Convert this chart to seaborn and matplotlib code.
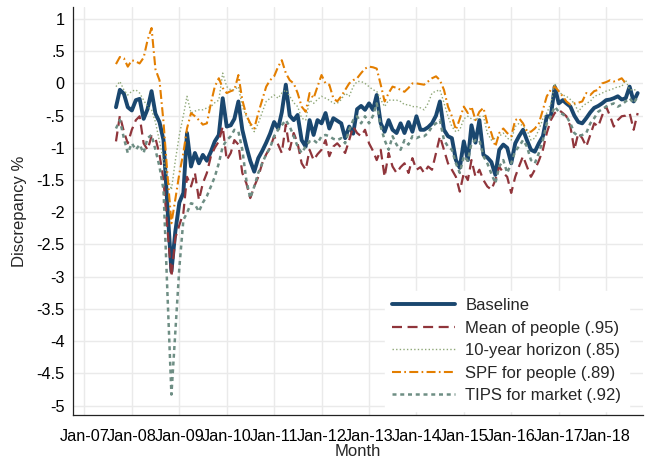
import numpy as np
import pandas as pd
import matplotlib
matplotlib.use("Agg")
import matplotlib.pyplot as plt
import matplotlib.dates as mdates
import seaborn as sns

# monthly observations, Sep 2007 - Sep 2018
months = pd.date_range("2007-09-01", periods=133, freq="MS")

baseline = [
    -0.37, -0.10, -0.16, -0.37,
    -0.42, -0.26, -0.24, -0.55, -0.40, -0.12, -0.47, -0.60, -0.88, -1.90, -2.92, -2.30,
    -1.85, -1.70, -0.77, -1.29, -1.08, -1.24, -1.11, -1.20, -1.06, -0.90, -0.80, -0.23,
    -0.67, -0.65, -0.55, -0.28, -0.72, -0.98, -1.20, -1.37, -1.16, -1.05, -0.92, -0.78,
    -0.60, -0.70, -0.45, -0.02, -0.50, -0.57, -0.49, -0.88, -0.98, -0.57, -0.80, -0.57,
    -0.62, -0.46, -0.70, -0.54, -0.58, -0.62, -0.85, -0.67, -0.78, -0.40, -0.35, -0.41,
    -0.31, -0.41, -0.18, -0.62, -0.75, -0.57, -0.72, -0.77, -0.62, -0.77, -0.60, -0.75,
    -0.51, -0.72, -0.72, -0.68, -0.62, -0.50, -0.28, -0.72, -0.82, -0.85, -1.19, -1.31,
    -0.90, -1.19, -0.65, -0.92, -0.57, -1.11, -1.15, -1.22, -1.42, -1.03, -0.95, -1.00,
    -1.24, -0.93, -0.82, -0.72, -0.88, -1.03, -1.06, -0.93, -0.82, -0.51, -0.51, -0.05,
    -0.31, -0.26, -0.31, -0.36, -0.50, -0.60, -0.62, -0.54, -0.45, -0.38, -0.35, -0.31,
    -0.26, -0.25, -0.23, -0.20, -0.25, -0.23, -0.05, -0.28, -0.15,
]

mean_people = [
    -0.90, -0.50, -0.75, -0.93,
    -0.72, -0.57, -0.51, -0.93, -1.03, -0.82, -0.85, -1.10, -1.50, -2.25, -3.00, -2.40,
    -2.20, -2.01, -1.45, -1.60, -1.39, -1.81, -1.55, -1.39, -1.13, -1.00, -0.90, -0.67,
    -1.19, -1.08, -0.88, -0.95, -1.39, -1.55, -1.78, -1.60, -1.45, -1.24, -1.10, -1.00,
    -0.82, -0.95, -1.08, -0.64, -1.03, -0.77, -0.93, -1.24, -1.34, -1.03, -1.19, -1.10,
    -1.03, -0.88, -1.13, -0.98, -0.93, -1.00, -1.08, -0.88, -0.67, -0.77, -0.82, -0.72,
    -0.93, -1.05, -1.19, -1.03, -1.45, -1.08, -1.29, -1.39, -1.30, -1.24, -1.39, -1.16,
    -1.34, -1.30, -1.39, -1.29, -1.34, -1.08, -0.82, -1.03, -1.24, -1.34, -1.45, -1.68,
    -1.39, -1.50, -1.19, -1.45, -1.34, -1.50, -1.60, -1.65, -1.50, -1.29, -1.39, -1.45,
    -1.70, -1.45, -1.29, -1.13, -1.29, -1.45, -1.34, -1.20, -1.03, -0.77, -0.57, -0.46,
    -0.41, -0.46, -0.51, -0.67, -1.03, -0.77, -0.85, -0.98, -0.80, -0.62, -0.67, -0.50,
    -0.36, -0.51, -0.67, -0.57, -0.51, -0.50, -0.46, -0.72, -0.46,
]

ten_year = [
    -0.05, 0.03, -0.10, -0.18,
    -0.12, -0.10, -0.15, -0.26, -0.36, -0.41, -0.60, -0.90, -1.20, -1.45, -1.65, -1.20,
    -0.80, -0.50, -0.20, -0.46, -0.43, -0.41, -0.41, -0.38, -0.36, -0.30, -0.26, 0.16,
    -0.05, -0.10, -0.10, -0.05, -0.36, -0.51, -0.65, -0.75, -0.62, -0.45, -0.28, -0.23,
    -0.18, -0.23, -0.15, -0.10, -0.20, -0.30, -0.36, -0.54, -0.57, -0.26, -0.31, -0.25,
    -0.20, -0.23, -0.26, -0.31, -0.31, -0.25, -0.15, -0.20, -0.05, 0.03, 0.03, 0.00,
    -0.05, -0.10, -0.12, -0.25, -0.36, -0.26, -0.26, -0.26, -0.28, -0.33, -0.33, -0.36,
    -0.36, -0.38, -0.41, -0.31, -0.15, -0.12, -0.10, -0.30, -0.51, -0.67, -0.75, -0.72,
    -0.55, -0.51, -0.55, -0.57, -0.51, -0.51, -0.77, -0.88, -0.85, -0.82, -0.77, -0.85,
    -0.88, -0.67, -0.62, -0.66, -0.72, -0.88, -0.85, -0.72, -0.55, -0.46, -0.31, 0.00,
    -0.13, -0.18, -0.20, -0.25, -0.31, -0.44, -0.36, -0.31, -0.28, -0.20, -0.18, -0.15,
    -0.12, -0.10, -0.08, -0.05, -0.05, 0.05, -0.10, -0.10, -0.10,
]

spf_people = [
    0.30, 0.41, 0.39, 0.26,
    0.36, 0.34, 0.31, 0.40, 0.67, 0.86, 0.22, 0.05, -0.60, -1.40, -2.17, -1.80,
    -1.40, -1.08, -0.70, -0.46, -0.51, -0.57, -0.64, -0.62, -0.31, -0.05, 0.08, -0.07,
    -0.15, -0.12, -0.10, 0.13, -0.26, -0.49, -0.62, -0.70, -0.46, -0.26, -0.05, 0.05,
    0.11, 0.26, 0.36, 0.16, 0.05, 0.00, -0.15, -0.36, -0.44, -0.15, -0.23, -0.05,
    0.13, 0.00, -0.02, -0.23, -0.28, -0.20, -0.10, 0.00, 0.05, 0.08, 0.16, 0.23,
    0.26, 0.25, 0.23, -0.02, -0.28, -0.15, -0.05, -0.07, -0.10, -0.13, -0.07, 0.00,
    0.00, -0.01, -0.02, 0.03, 0.08, 0.11, 0.05, -0.10, -0.36, -0.51, -0.72, -0.55,
    -0.36, -0.46, -0.36, -0.57, -0.44, -0.38, -0.62, -0.77, -0.98, -0.77, -0.70, -0.77,
    -0.82, -0.57, -0.54, -0.62, -0.75, -0.75, -0.70, -0.62, -0.41, -0.20, -0.10, -0.05,
    -0.12, -0.20, -0.28, -0.33, -0.31, -0.30, -0.28, -0.15, -0.18, -0.12, -0.10, 0.00,
    0.02, 0.05, 0.03, 0.05, 0.08, 0.00, np.nan, np.nan, np.nan,
]

tips_market = [
    -0.70, -0.57, -0.85, -1.08,
    -0.93, -1.03, -0.95, -1.08, -0.85, -0.80, -1.03, -1.29, -1.65, -3.24, -4.83, -3.85,
    -2.86, -2.12, -2.01, -1.86, -1.88, -1.99, -1.85, -1.75, -1.60, -1.45, -1.24, -0.98,
    -0.88, -0.82, -0.72, -0.75, -1.03, -1.50, -1.78, -1.60, -1.39, -1.24, -1.10, -1.00,
    -0.82, -0.72, -0.65, -0.57, -0.67, -0.82, -0.98, -1.08, -0.98, -0.90, -0.88, -0.93,
    -0.82, -0.80, -0.82, -0.86, -0.88, -0.85, -0.93, -0.72, -0.57, -0.51, -0.62, -0.51,
    -0.62, -0.50, -0.31, -0.67, -0.88, -1.03, -0.82, -0.95, -1.03, -0.88, -0.95, -0.82,
    -0.85, -0.82, -0.82, -0.77, -0.67, -0.62, -0.57, -0.88, -0.98, -1.03, -1.24, -1.39,
    -1.13, -1.20, -0.93, -0.88, -0.88, -1.13, -1.24, -1.40, -1.55, -1.29, -1.19, -1.39,
    -1.24, -1.05, -0.98, -0.88, -0.98, -1.19, -1.24, -1.08, -0.88, -0.62, -0.51, -0.36,
    -0.44, -0.48, -0.51, -0.62, -0.77, -0.82, -0.80, -0.77, -0.62, -0.54, -0.44, -0.40,
    -0.36, -0.33, -0.31, -0.36, -0.33, -0.28, -0.23, -0.31, -0.20,
]

labels = ["Baseline", "Mean of people (.95)", "10-year horizon (.85)",
          "SPF for people (.89)", "TIPS for market (.92)"]
series = [baseline, mean_people, ten_year, spf_people, tips_market]
colors = ["#1a476f", "#90353b", "#8fa878", "#e37e00", "#6e8e84"]
widths = [2.8, 1.6, 1.0, 1.5, 1.8]
styles = ["-", (0, (4.5, 2.5)), (0, (1, 1.6)), (0, (4.3, 1.6, 0.8, 1.6)), (0, (1.6, 1.5))]

yticks = [1, 0.5, 0, -0.5, -1, -1.5, -2, -2.5, -3, -3.5, -4, -4.5, -5]
ytick_labels = ["1", ".5", "0", "-.5", "-1", "-1.5", "-2", "-2.5", "-3", "-3.5", "-4", "-4.5", "-5"]
xticks = pd.date_range("2007-01-01", "2018-01-01", freq="YS")

sns.set_style("white")
plt.rcParams["font.family"] = ["Liberation Sans", "DejaVu Sans"]

fig = plt.figure(figsize=(6.45, 4.59), dpi=100)
ax = fig.add_axes([73 / 645, 44 / 459, 570 / 645, 408 / 459])

for vals, lab, c, w, ls in zip(series, labels, colors, widths, styles):
    sns.lineplot(x=months, y=vals, ax=ax, color=c, linewidth=w,
                 linestyle=ls, label=lab)

ax.set_xlim(pd.Timestamp("2006-10-05"), pd.Timestamp("2018-10-12"))
ax.set_ylim(-5.147, 1.186)
ax.set_yticks(yticks)
ax.set_yticklabels(ytick_labels)
ax.set_xticks(xticks)
ax.xaxis.set_major_formatter(mdates.DateFormatter("%b-%y"))

ax.grid(True, color="#eaeaea", linewidth=1.0)
ax.set_axisbelow(True)
for s in ["top", "right"]:
    ax.spines[s].set_visible(False)
for s in ["left", "bottom"]:
    ax.spines[s].set_color("#222222")
    ax.spines[s].set_linewidth(0.9)
ax.tick_params(axis="y", direction="out", length=4.5, width=0.8,
               color="#222222", labelsize=11.7, labelcolor="black", pad=1.5)
ax.tick_params(axis="x", direction="out", length=4, width=0.8,
               color="#222222", labelsize=11.7, labelcolor="black", pad=6)
ax.set_xlabel("Month", fontsize=12, labelpad=0)
ax.set_ylabel("Discrepancy %", fontsize=12, labelpad=7)

leg = ax.legend(loc="lower right", bbox_to_anchor=(0.99, -0.01), fontsize=12,
                frameon=True, framealpha=1, facecolor="white", edgecolor="white",
                fancybox=False, handlelength=3.8, labelspacing=0.45,
                borderpad=0.45, handletextpad=0.6)

fig.savefig("out.png", dpi=100)
